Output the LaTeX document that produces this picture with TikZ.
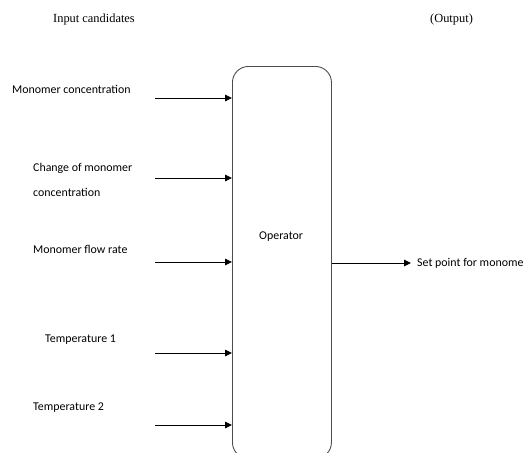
\documentclass[tikz,border=0pt]{standalone}
\usepackage{fontspec}
\setmainfont{Liberation Serif}
\newfontfamily\calfont{Carlito}
\usetikzlibrary{arrows.meta}
\begin{document}
\begin{tikzpicture}[x=1pt,y=-1pt,
  lbl/.style={font=\calfont\fontsize{11.9}{14}\selectfont, inner sep=0pt, anchor=west},
  ser/.style={font=\fontsize{12.4}{14}\selectfont, inner sep=0pt, anchor=west},
  arr/.style={draw=black, line width=0.9pt, -{Triangle[length=7pt,width=6.5pt]}}]
\useasboundingbox (0,0) rectangle (523,453);
\clip (0,0) rectangle (523,453);
\node[ser] (inp) at (53,20) {Input candidates};
\node[ser] (outp) at (430,20) {(Output)};
\node[draw=black!70, line width=0.9pt, rounded corners=16pt, minimum width=99pt, minimum height=392pt, anchor=north west, inner sep=0pt] (op) at (232,66) {};
\node[lbl] (opl) at (259,237) {Operator};
\node[lbl] (t1) at (12,89) {Monomer concentration};
\node[lbl, align=left] (t2) at (33,180) {Change of monomer\\[11pt]concentration};
\node[lbl] (t3) at (33,249) {Monomer flow rate};
\node[lbl] (t4) at (45,340) {Temperature 1};
\node[lbl] (t5) at (33,408) {Temperature 2};
\node[lbl] (o) at (417,263) {Set point for monome};
\coordinate (s1) at (155,98);
\coordinate (s2) at (155,178);
\coordinate (s3) at (155,262);
\coordinate (s4) at (155,353);
\coordinate (s5) at (155,425);
\foreach \i in {1,...,5} \draw[arr] (s\i) -- (s\i -| op.west);
\draw[arr] (op.east |- o.west) -- ([xshift=-6pt]o.west);
\end{tikzpicture}
\end{document}
